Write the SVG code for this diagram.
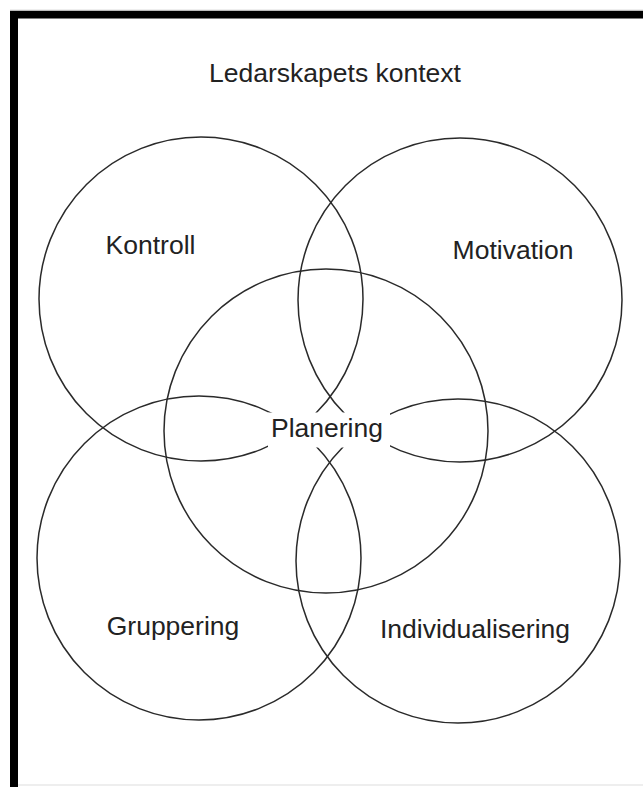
<svg xmlns="http://www.w3.org/2000/svg" width="643" height="787" viewBox="0 0 643 787">
<style>
.c{fill:none;stroke:#2a2a2a;stroke-width:1.5}
.t{font-family:"Liberation Sans",Arial,sans-serif;font-size:26.5px;fill:#222;text-anchor:middle}
</style>
<rect x="0" y="0" width="643" height="787" fill="#fff"/>
<g id="frame">
<line x1="10" y1="10.3" x2="643" y2="10.3" stroke="#aaa" stroke-width="1"/>
<line x1="18" y1="785" x2="643" y2="785" stroke="#ddd" stroke-width="1"/>
<rect x="10" y="11" width="633" height="7.5" fill="#000"/>
<rect x="10" y="11" width="8" height="776" fill="#000"/>
</g>
<g id="title"><text class="t" x="335" y="82">Ledarskapets kontext</text></g>
<g id="kontroll"><circle class="c" cx="201" cy="299" r="162"/></g>
<g id="motivation"><circle class="c" cx="460" cy="300" r="162"/></g>
<g id="gruppering"><circle class="c" cx="199" cy="558" r="162"/></g>
<g id="individualisering"><circle class="c" cx="458" cy="561" r="162"/></g>
<g id="planering"><circle class="c" cx="326" cy="431" r="162"/>
<rect x="268" y="412.5" width="122" height="35" fill="#fff"/>
</g>
<g id="labels">
<text class="t" x="150.5" y="254">Kontroll</text>
<text class="t" x="513" y="259">Motivation</text>
<text class="t" x="327" y="437">Planering</text>
<text class="t" x="173" y="635">Gruppering</text>
<text class="t" x="475" y="638">Individualisering</text>
</g>
</svg>
